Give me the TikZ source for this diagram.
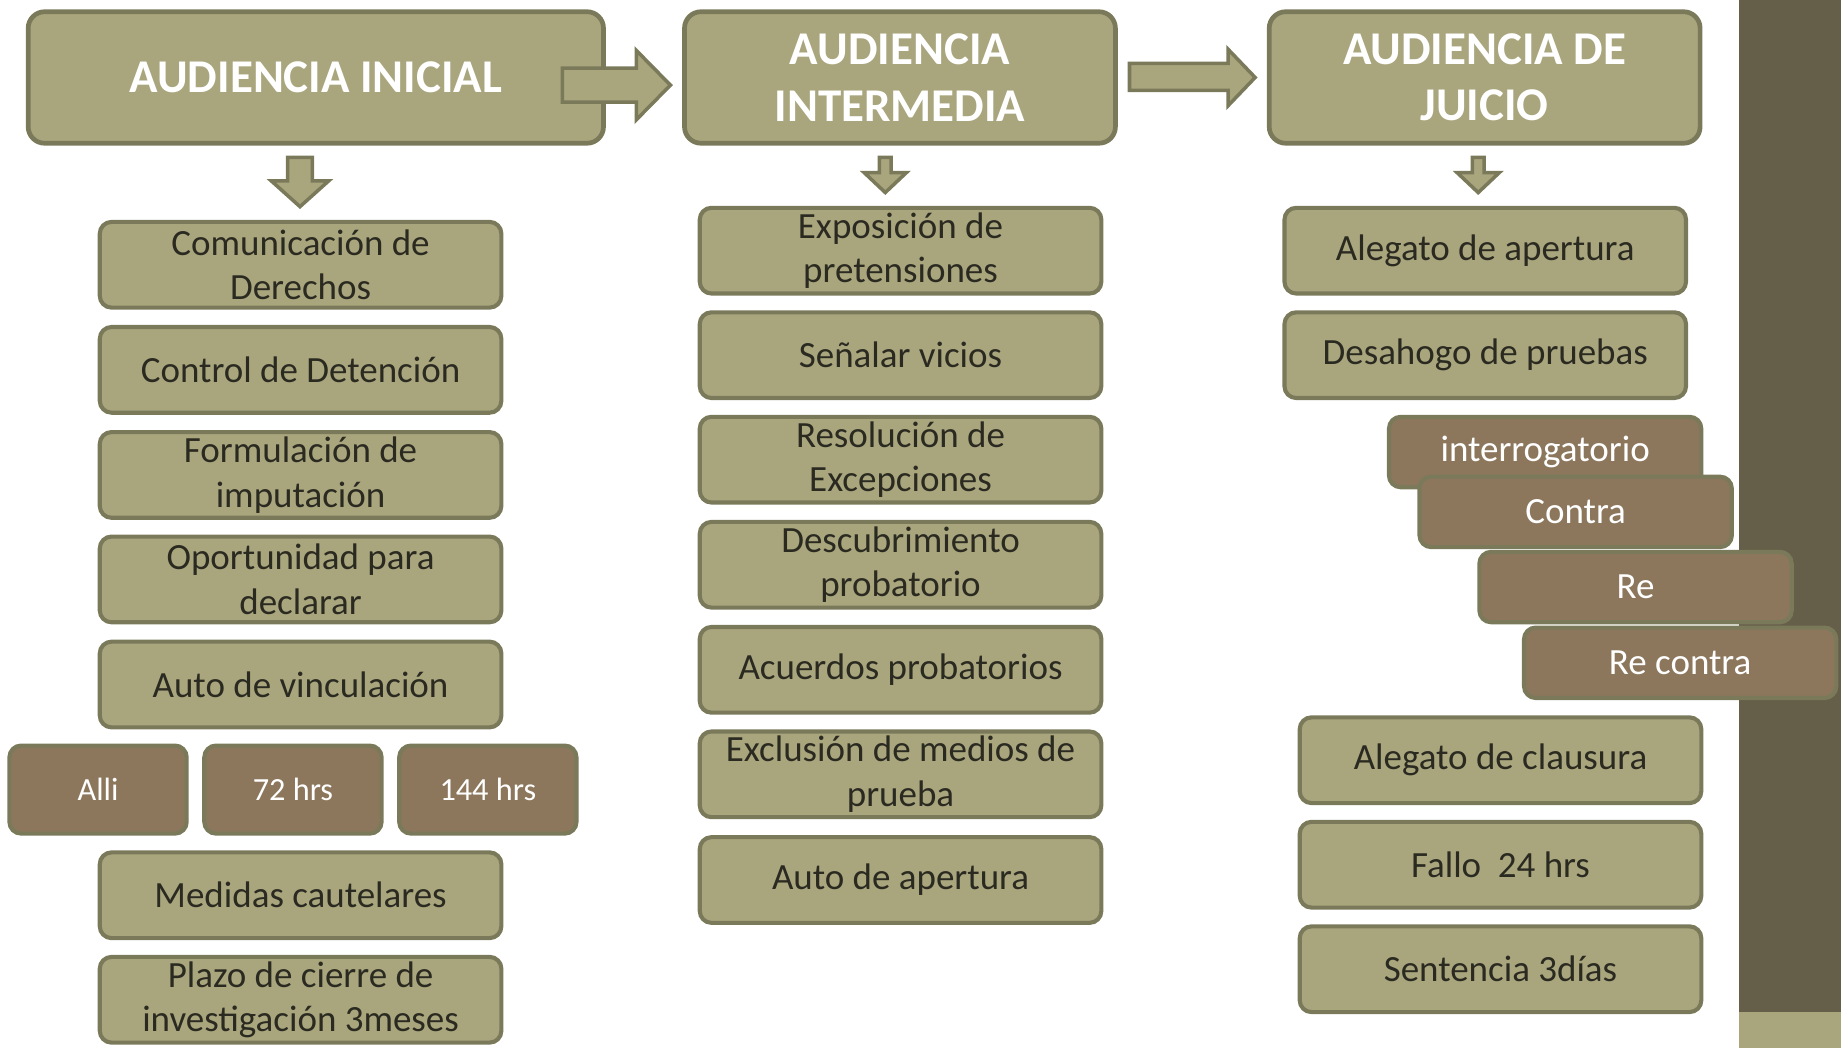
\documentclass[tikz,border=0pt]{standalone}
\usepackage{fontspec}
\setmainfont{Carlito}
\usepackage{tikz}
\usetikzlibrary{positioning}
\definecolor{stagefill}{HTML}{A9A67E}
\definecolor{stageline}{HTML}{7A7A5B}
\definecolor{termfill}{HTML}{8C775C}
\definecolor{panelcol}{HTML}{655E48}
\definecolor{textdark}{HTML}{2B2A21}
\tikzset{
    stage/.style = {
        draw=stageline,
        fill=stagefill,
        shape=rectangle,
        rounded corners=14pt,
        line width=4pt,
        minimum height=112pt,
        minimum width=367pt,
        inner sep=0pt,
        align=center,
        text=white,
        font=\bfseries\fontsize{40}{48}\selectfont
    },
    task/.style = {
        draw=stageline,
        fill=stagefill,
        shape=rectangle,
        rounded corners=10pt,
        line width=3.5pt,
        minimum height=73pt,
        minimum width=342pt,
        inner sep=0pt,
        align=center,
        text=textdark,
        font=\fontsize{31.5}{38}\selectfont
    },
    term/.style = {
        task,
        fill=termfill,
        text=white
    },
    blockarrow/.style = {
        draw=stageline,
        fill=stagefill,
        line width=3pt,
        line join=miter
    },
}
\begin{document}
\begin{tikzpicture}[x=1pt, y=-1pt]
    \useasboundingbox (0,0) rectangle (1568,893);
    \fill[panelcol] (1481,0) rectangle (1568,862);
    \fill[stagefill] (1481,862) rectangle (1568,893);

    % stages
    \node[stage, minimum width=490pt] (ini)    at (269,   66) {AUDIENCIA INICIAL};
    \node[stage]                      (inter)  at (766.5, 66) {AUDIENCIA\\INTERMEDIA};
    \node[stage]                      (juicio) at (1264.5,66) {AUDIENCIA DE\\JUICIO};

    % arrows between stages
    \path[draw, blockarrow] (479,58) -- (542,58) -- (542,43) -- (571,72.5) -- (542,102) -- (542,87) -- (479,87) -- cycle;
    \path[draw, blockarrow] (962,54) -- (1046,54) -- (1046,42) -- (1069,66) -- (1046,90) -- (1046,77) -- (962,77) -- cycle;

    % arrows down
    \path[draw, blockarrow] (245,134) -- (266,134) -- (266,154) -- (280,154) -- (255.5,176) -- (231,154) -- (245,154) -- cycle;
    \path[draw, blockarrow] (749,134) -- (759,134) -- (759,147) -- (772,147) -- (754,164) -- (736,147) -- (749,147) -- cycle;
    \path[draw, blockarrow] (1254,134) -- (1264,134) -- (1264,147) -- (1277,147) -- (1259,164) -- (1241,147) -- (1254,147) -- cycle;

    % audiencia inicial
    \node[task] (derechos)   at (256,225.5) {Comunicación de\\Derechos};
    \node[task] (detencion)  at (256,315)   {Control de Detención};
    \node[task] (imputacion) at (256,404.5) {Formulación de\\imputación};
    \node[task] (declarar)   at (256,493.5) {Oportunidad para\\declarar};
    \node[task] (vinculo)    at (256,583)   {Auto de vinculación};
    \node[term, minimum width=151pt, minimum height=75pt, font=\fontsize{27.5}{32}\selectfont] (alli)  at (83.5,672.5)  {Alli};
    \node[term, minimum width=151pt, minimum height=75pt, font=\fontsize{27.5}{32}\selectfont] (hrs72) at (249.5,672.5) {72 hrs};
    \node[term, minimum width=151pt, minimum height=75pt, font=\fontsize{27.5}{32}\selectfont] (hrs144) at (415.5,672.5) {144 hrs};
    \node[task] (medidas)    at (256,762.5) {Medidas cautelares};
    \node[task] (plazo)      at (256,851.5) {Plazo de cierre de\\investigación 3meses};

    % audiencia intermedia
    \node[task] (pretension) at (767,213.5) {Exposición de\\pretensiones};
    \node[task] (vicios)     at (767,302.5) {Señalar vicios};
    \node[task] (excepcion)  at (767,391.5) {Resolución de\\Excepciones};
    \node[task] (descubre)   at (767,481)   {Descubrimiento\\probatorio};
    \node[task] (acuerdos)   at (767,570.5) {Acuerdos probatorios};
    \node[task] (exclusion)  at (767,659.5) {Exclusión de medios de\\prueba};
    \node[task] (autoaper)   at (767,749.5) {Auto de apertura};

    % audiencia de juicio
    \node[task] (apertura)   at (1265,213.5) {Alegato de apertura};
    \node[task] (desahogo)   at (1265,302.5) {Desahogo de pruebas};
    \node[term, minimum width=266pt, minimum height=60pt] (interrog) at (1316,385)   {interrogatorio};
    \node[term, minimum width=266pt, minimum height=60pt] (contra)   at (1342,436)   {Contra};
    \node[term, minimum width=266pt, minimum height=60pt] (re)       at (1393,500)   {Re};
    \node[term, minimum width=266pt, minimum height=60pt] (recontra) at (1431,564.5) {Re contra};
    \node[task] (clausura)   at (1278,647.5) {Alegato de clausura};
    \node[task] (fallo)      at (1278,736.5) {Fallo~ 24 hrs};
    \node[task] (sentencia)  at (1278,825.5) {Sentencia 3días};
\end{tikzpicture}
\end{document}
